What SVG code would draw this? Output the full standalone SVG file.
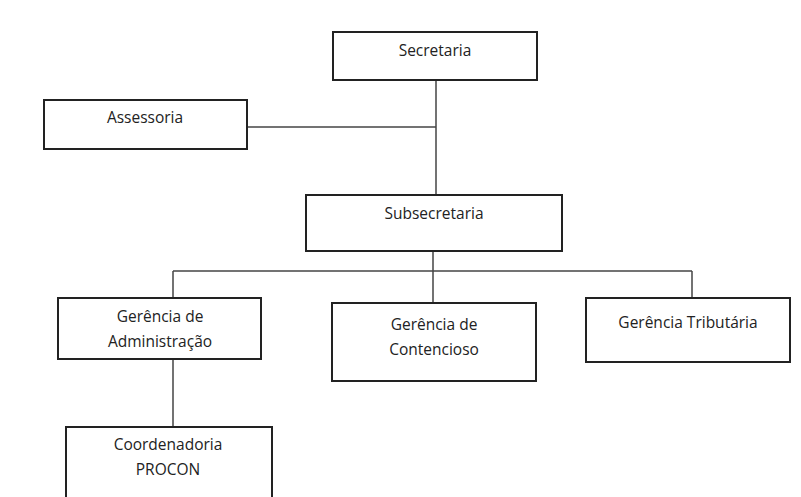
<svg xmlns="http://www.w3.org/2000/svg" width="801" height="497" viewBox="0 0 801 497">
<style>
rect{fill:#fff;stroke:#222;stroke-width:2}
text{font-family:"Open Sans","Liberation Sans",sans-serif;font-size:15.5px;fill:#222;text-anchor:middle}
.c line{stroke:#444;stroke-width:1.5}
</style>
<rect x="0" y="0" width="801" height="497" style="stroke:none"/>
<g class="c" id="connectors">
<line x1="436" y1="80" x2="436" y2="195"/>
<line x1="247" y1="127" x2="436" y2="127"/>
<line x1="433" y1="251" x2="433" y2="303"/>
<line x1="173" y1="271" x2="692" y2="271"/>
<line x1="173" y1="271" x2="173" y2="298"/>
<line x1="692" y1="271" x2="692" y2="298"/>
<line x1="173" y1="359" x2="173" y2="427"/>
</g>
<g id="secretaria"><rect x="333" y="32" width="204" height="48"/><text x="435" y="56">Secretaria</text></g>
<g id="assessoria"><rect x="44" y="100" width="203" height="49"/><text x="145" y="123">Assessoria</text></g>
<g id="subsecretaria"><rect x="306" y="195" width="256" height="56"/><text x="434" y="219">Subsecretaria</text></g>
<g id="ger-adm"><rect x="58" y="298" width="203" height="61"/><text x="160" y="322">Gerência de</text><text x="160" y="347">Administração</text></g>
<g id="ger-cont"><rect x="332" y="303" width="204" height="78"/><text x="434" y="330">Gerência de</text><text x="434" y="355">Contencioso</text></g>
<g id="ger-trib"><rect x="586" y="298" width="204" height="64"/><text x="688" y="328">Gerência Tributária</text></g>
<g id="procon"><rect x="66" y="427" width="206" height="72"/><text x="168" y="450">Coordenadoria</text><text x="168" y="475">PROCON</text></g>
</svg>
